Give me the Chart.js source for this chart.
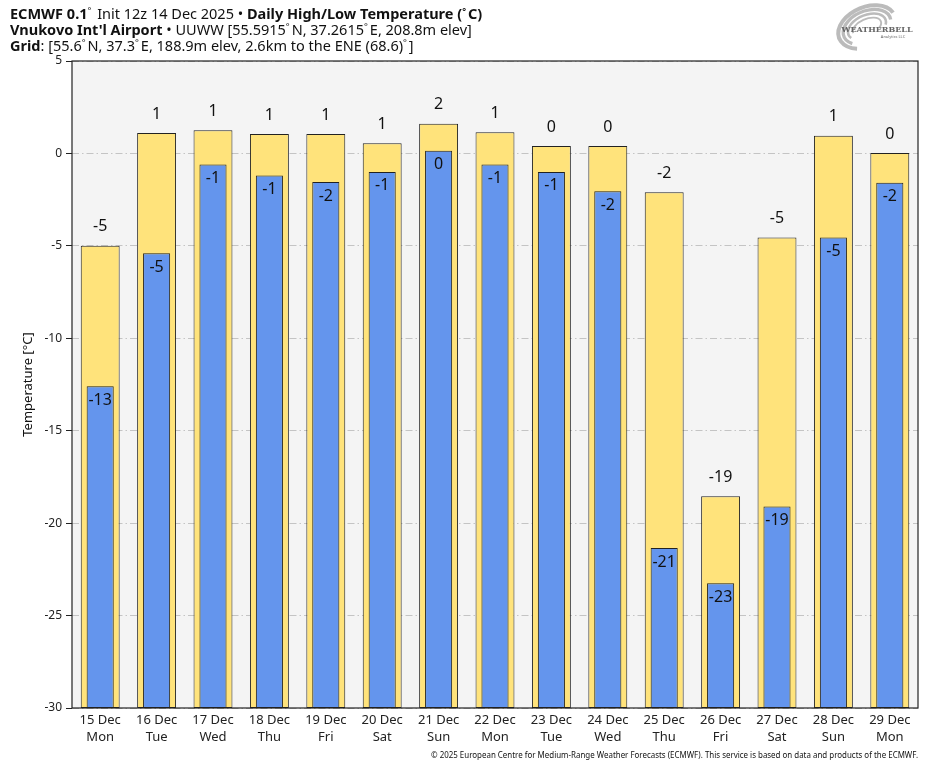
<!DOCTYPE html>
<html>
<head>
<meta charset="utf-8">
<script src="https://cdn.jsdelivr.net/npm/chart.js@4.4.1/dist/chart.umd.min.js"></script>
<style>
html,body{margin:0;padding:0;background:#fff;}
#wrap{width:935px;height:768px;position:relative;}
</style>
</head>
<body>
<div id="wrap"><canvas id="c" width="935" height="768"></canvas></div>
<script>
const dates = ["15 Dec","16 Dec","17 Dec","18 Dec","19 Dec","20 Dec","21 Dec","22 Dec","23 Dec","24 Dec","25 Dec","26 Dec","27 Dec","28 Dec","29 Dec"];
const weekdays = ["Mon","Tue","Wed","Thu","Fri","Sat","Sun","Mon","Tue","Wed","Thu","Fri","Sat","Sun","Mon"];
const highs = [-5.0, 1.1, 1.25, 1.05, 1.05, 0.55, 1.6, 1.15, 0.4, 0.4, -2.1, -18.55, -4.55, 0.95, 0.02];
const lows = [-12.6, -5.4, -0.6, -1.2, -1.55, -1.0, 0.15, -0.6, -1.0, -2.05, -21.35, -23.25, -19.1, -4.55, -1.58];
const yMin = -30, yMax = 5, yStep = 5;

const FONT = "'Noto Sans', 'Open Sans', sans-serif";

const bgPlugin = {
  id: 'bg',
  beforeDraw(chart) {
    const {ctx, chartArea: a} = chart;
    ctx.save();
    ctx.fillStyle = '#f4f4f4';
    ctx.fillRect(a.left, a.top, a.right - a.left, a.bottom - a.top);
    ctx.restore();
  },
  afterDraw(chart) {
    const {ctx, chartArea: a} = chart;
    ctx.save();
    ctx.strokeStyle = '#222';
    ctx.lineWidth = 1.2;
    ctx.strokeRect(a.left, a.top, a.right - a.left, a.bottom - a.top);
    ctx.restore();

    // titles
    const lines = [
      [["ECMWF 0.1", true], ["°", false, true], [" Init 12z 14 Dec 2025 • ", false], ["Daily High/Low Temperature (", true], ["°", true, true], ["C)", true]],
      [["Vnukovo Int'l Airport", true], [" • UUWW [55.5915", false], ["°", false, true], ["N, 37.2615", false], ["°", false, true], ["E, 208.8m elev]", false]],
      [["Grid", true], [": [55.6", false], ["°", false, true], ["N, 37.3", false], ["°", false, true], ["E, 188.9m elev, 2.6km to the ENE (68.6)", false], ["°", false, true], ["]", false]]
    ];
    const ys = [19, 35, 51];
    ctx.save();
    ctx.fillStyle = '#111';
    ctx.textBaseline = 'alphabetic';
    lines.forEach((ln, i) => {
      let x = 10;
      ln.forEach(([t, b, sup]) => {
        const sz = sup ? 9 : 14.5;
        ctx.font = (b ? '700 ' : '400 ') + sz + 'px ' + FONT;
        ctx.fillText(t, x, ys[i] - (sup ? 5 : 0));
        x += ctx.measureText(t).width + (sup ? 2 : 0);
      });
    });
    ctx.restore();

    // footer
    ctx.save();
    ctx.font = '400 8px ' + FONT;
    ctx.fillStyle = '#111';
    const ft = "© 2025 European Centre for Medium-Range Weather Forecasts (ECMWF). This service is based on data and products of the ECMWF.";
    const w = ctx.measureText(ft).width;
    const target = 487;
    ctx.translate(918, 758);
    ctx.scale(target / w, 1);
    ctx.textAlign = 'right';
    ctx.fillText(ft, 0, 0);
    ctx.restore();

    // logo
    ctx.save();
    ctx.translate(873, 27);
    ctx.strokeStyle = 'rgba(170,170,170,0.8)';
    for (let k = 0; k < 4; k++) {
      ctx.lineWidth = 4 - k * 0.7;
      ctx.beginPath();
      ctx.ellipse(-6, 0, 30 - k * 5, 20 - k * 4, -0.4, Math.PI * 0.7 + k * 0.3, Math.PI * 1.95 + k * 0.3);
      ctx.stroke();
    }
    ctx.fillStyle = '#666';
    ctx.font = '700 8px "DejaVu Serif", serif';
    ctx.textAlign = 'center';
    ctx.fillText('WEATHERBELL', 4, 5);
    ctx.font = '400 4px ' + FONT;
    ctx.fillText('Analytics LLC', 20, 11);
    ctx.restore();
  }
};

const labelPlugin = {
  id: 'vals',
  afterDatasetsDraw(chart) {
    const {ctx} = chart;
    const ys = chart.scales.y;
    ctx.save();
    ctx.font = '400 16px ' + FONT;
    ctx.fillStyle = '#111';
    ctx.textAlign = 'center';
    const mh = chart.getDatasetMeta(1);
    mh.data.forEach((bar, i) => {
      const v = Math.round(highs[i]);
      ctx.textBaseline = 'bottom';
      ctx.fillText(String(v === 0 ? 0 : v), bar.x, ys.getPixelForValue(highs[i]) - 11);
    });
    const ml = chart.getDatasetMeta(0);
    ml.data.forEach((bar, i) => {
      const v = Math.round(lows[i]);
      ctx.textBaseline = 'top';
      ctx.fillText(String(v === 0 ? 0 : v), bar.x, ys.getPixelForValue(lows[i]) + 6);
    });
    ctx.restore();
  }
};

new Chart(document.getElementById('c'), {
  type: 'bar',
  data: {
    labels: dates.map((d, i) => [d, weekdays[i]]),
    datasets: [
      {
        label: 'Low',
        data: lows.map(v => [yMin, v]),
        backgroundColor: '#6495ed',
        borderColor: '#222',
        borderWidth: 1,
        borderSkipped: false,
        grouped: false,
        barPercentage: 0.48,
        categoryPercentage: 1,
        order: 1
      },
      {
        label: 'High',
        data: highs.map(v => [yMin, v]),
        backgroundColor: '#ffe37b',
        borderColor: '#222',
        borderWidth: 1,
        borderSkipped: false,
        grouped: false,
        barPercentage: 0.69,
        categoryPercentage: 1,
        order: 2
      }
    ]
  },
  options: {
    responsive: false,
    animation: false,
    devicePixelRatio: 1,
    layout: {padding: {top: 61, right: 17, left: 20, bottom: 0}},
    plugins: {legend: {display: false}, tooltip: {enabled: false}, title: {display: false}},
    scales: {
      x: {
        grid: {display: false},
        border: {display: false},
        ticks: {font: {family: FONT, size: 13, lineHeight: 1.3}, color: '#222', padding: -4, maxRotation: 0},
        afterFit(s) { s.height = 60; }
      },
      y: {
        min: yMin, max: yMax,
        ticks: {stepSize: yStep, font: {family: FONT, size: 12}, color: '#222', padding: 4},
        grid: {color: '#c4c4c4', lineWidth: 1, tickColor: '#222', tickLength: 6, tickBorderDash: [], drawOnChartArea: true},
        border: {display: false, dash: [7, 3, 1.5, 3]},
        title: {display: true, text: 'Temperature [°C]', font: {family: FONT, size: 13}, color: '#111', padding: {top: 0, bottom: 0}},
        afterFit(s) { s.width = 52; }
      }
    }
  },
  plugins: [bgPlugin, labelPlugin]
});
</script>
</body>
</html>
